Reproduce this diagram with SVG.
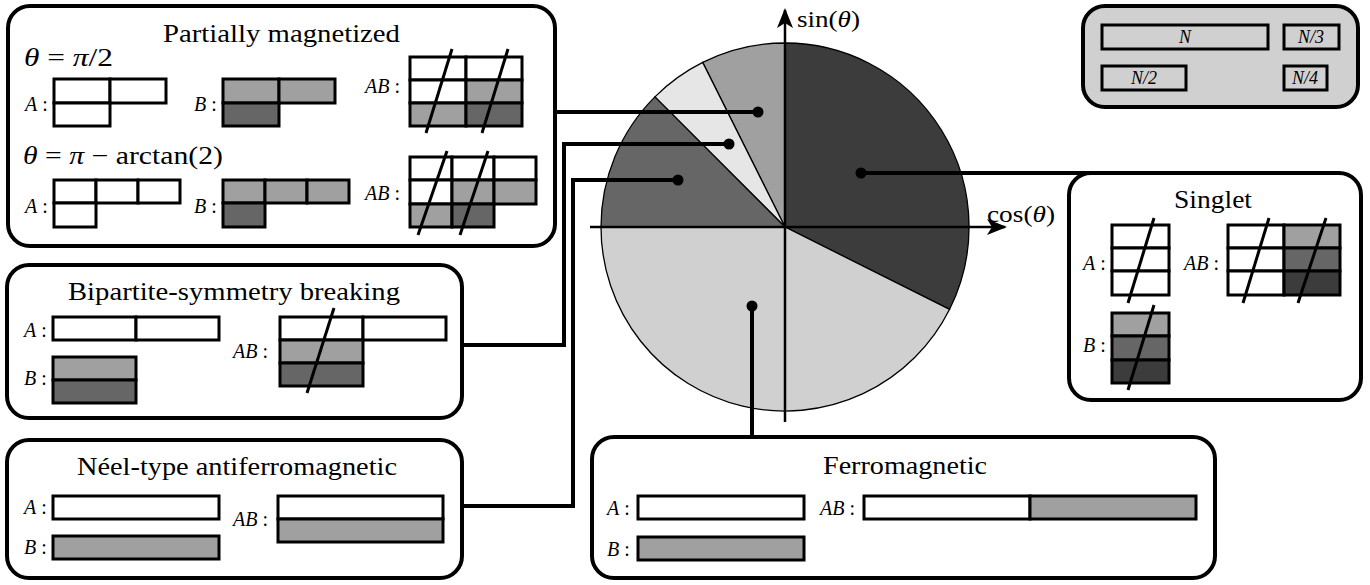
<svg xmlns="http://www.w3.org/2000/svg" width="1370" height="585" viewBox="0 0 1370 585">
<style>
.box{fill:#fff;stroke:#000;stroke-width:4}
.c{stroke:#000;stroke-width:3}
.w{fill:#fff}.g1{fill:#a0a0a0}.g2{fill:#666}.g3{fill:#3c3c3c}
.sl{stroke:#000;stroke-width:3;fill:none}
.t{font-family:"Liberation Serif","DejaVu Serif","Times New Roman",serif;font-size:25px;fill:#000}
.ax-l{font-family:"Liberation Serif","DejaVu Serif","Times New Roman",serif;font-size:23px;fill:#000}
.lb{font-family:"Liberation Serif","DejaVu Serif","Times New Roman",serif;font-size:20px;fill:#000}
.lg{font-family:"Liberation Serif","DejaVu Serif","Times New Roman",serif;font-size:18px;font-style:italic;fill:#000}
.i{font-style:italic}
.con{stroke:#000;stroke-width:4;fill:none}
.sec{stroke:#000;stroke-width:1.3}
.ax{stroke:#000;stroke-width:2.5;fill:none}
</style>
<defs>
<marker id="arr" viewBox="0 0 20 16" refX="18" refY="8" markerWidth="20" markerHeight="16" markerUnits="userSpaceOnUse" orient="auto">
<path d="M0,0 L20,8 L0,16 L5,8 Z" fill="#000"/>
</marker>
</defs>

<!-- Pie chart -->
<g id="pie">
<path class="sec g3" d="M785,227 L949.6,309.3 A184,184 0 0 0 785,43 Z"/>
<path class="sec g1" d="M785,227 L785,43 A184,184 0 0 0 702.7,62.4 Z"/>
<path class="sec" fill="#e6e6e6" d="M785,227 L702.7,62.4 A184,184 0 0 0 654.9,96.9 Z"/>
<path class="sec g2" d="M785,227 L654.9,96.9 A184,184 0 0 0 601,227 Z"/>
<path class="sec" fill="#d0d0d0" d="M785,227 L601,227 A184,184 0 0 0 949.6,309.3 Z"/>
<line class="ax" x1="785" y1="422" x2="785" y2="10" marker-end="url(#arr)"/>
<line class="ax" x1="590" y1="227" x2="1005" y2="227" marker-end="url(#arr)"/>
<text class="ax-l" x="797" y="27" textLength="63" lengthAdjust="spacingAndGlyphs">sin(<tspan class="i">θ</tspan>)</text>
<text class="ax-l" x="987" y="222" textLength="68" lengthAdjust="spacingAndGlyphs">cos(<tspan class="i">θ</tspan>)</text>
</g>

<!-- Connectors -->
<g id="connectors">
<path class="con" d="M555,112 H758"/>
<path class="con" d="M729,144 H564 V345 H463"/>
<path class="con" d="M678,180 H573 V506 H463"/>
<path class="con" d="M861,173 H1152"/>
<path class="con" d="M752,306 V437"/>
<circle cx="758" cy="112" r="5.5"/>
<circle cx="729" cy="144" r="5.5"/>
<circle cx="678" cy="180" r="5.5"/>
<circle cx="861" cy="173" r="5.5"/>
<circle cx="752" cy="306" r="5.5"/>
</g>

<!-- Partially magnetized -->
<g id="partially">
<rect class="box" x="8" y="6" width="547" height="240" rx="22"/>
<text class="t" x="163" y="42" textLength="237" lengthAdjust="spacingAndGlyphs">Partially magnetized</text>
<text class="t" x="24" y="66" textLength="89" lengthAdjust="spacingAndGlyphs"><tspan class="i">θ</tspan> = <tspan class="i">π</tspan>/2</text>
<text class="lb" x="25" y="111"><tspan class="i">A</tspan> :</text>
<rect class="c w" x="54" y="79" width="56" height="24"/>
<rect class="c w" x="110" y="79" width="56" height="24"/>
<rect class="c w" x="54" y="103" width="56" height="23"/>
<text class="lb" x="194" y="111"><tspan class="i">B</tspan> :</text>
<rect class="c g1" x="223" y="79" width="56" height="24"/>
<rect class="c g1" x="279" y="79" width="56" height="24"/>
<rect class="c g2" x="223" y="103" width="56" height="23"/>
<text class="lb" x="365" y="93"><tspan class="i">AB</tspan> :</text>
<rect class="c w" x="410" y="57" width="56" height="23"/>
<rect class="c w" x="466" y="57" width="56" height="23"/>
<rect class="c w" x="410" y="80" width="56" height="23"/>
<rect class="c g1" x="466" y="80" width="56" height="23"/>
<rect class="c g1" x="410" y="103" width="56" height="23"/>
<rect class="c g2" x="466" y="103" width="56" height="23"/>
<line class="sl" x1="452" y1="49" x2="426" y2="133"/>
<line class="sl" x1="508" y1="49" x2="482" y2="133"/>

<text class="t" x="23" y="164" textLength="200" lengthAdjust="spacingAndGlyphs"><tspan class="i">θ</tspan> = <tspan class="i">π</tspan> − arctan(2)</text>
<text class="lb" x="25" y="213"><tspan class="i">A</tspan> :</text>
<rect class="c w" x="54" y="180" width="42" height="23"/>
<rect class="c w" x="96" y="180" width="42" height="23"/>
<rect class="c w" x="138" y="180" width="42" height="23"/>
<rect class="c w" x="54" y="203" width="42" height="24"/>
<text class="lb" x="194" y="213"><tspan class="i">B</tspan> :</text>
<rect class="c g1" x="223" y="180" width="42" height="23"/>
<rect class="c g1" x="265" y="180" width="42" height="23"/>
<rect class="c g1" x="307" y="180" width="42" height="23"/>
<rect class="c g2" x="223" y="203" width="42" height="24"/>
<text class="lb" x="365" y="200"><tspan class="i">AB</tspan> :</text>
<rect class="c w" x="410" y="157" width="42" height="23"/>
<rect class="c w" x="452" y="157" width="42" height="23"/>
<rect class="c w" x="494" y="157" width="42" height="23"/>
<rect class="c w" x="410" y="180" width="42" height="24"/>
<rect class="c g1" x="452" y="180" width="42" height="24"/>
<rect class="c g1" x="494" y="180" width="42" height="24"/>
<rect class="c g1" x="410" y="204" width="42" height="23"/>
<rect class="c g2" x="452" y="204" width="42" height="23"/>
<line class="sl" x1="447" y1="151" x2="418" y2="235"/>
<line class="sl" x1="488" y1="151" x2="460" y2="235"/>
</g>

<!-- Bipartite-symmetry breaking -->
<g id="bipartite">
<rect class="box" x="7" y="265" width="455" height="153" rx="22"/>
<text class="t" x="68" y="300" textLength="332" lengthAdjust="spacingAndGlyphs">Bipartite-symmetry breaking</text>
<text class="lb" x="24" y="337"><tspan class="i">A</tspan> :</text>
<rect class="c w" x="53" y="317" width="83" height="23"/>
<rect class="c w" x="136" y="317" width="83" height="23"/>
<text class="lb" x="24" y="385"><tspan class="i">B</tspan> :</text>
<rect class="c g1" x="53" y="357" width="83" height="23"/>
<rect class="c g2" x="53" y="380" width="83" height="23"/>
<text class="lb" x="233" y="358"><tspan class="i">AB</tspan> :</text>
<rect class="c w" x="280" y="317" width="83" height="23"/>
<rect class="c w" x="363" y="317" width="83" height="23"/>
<rect class="c g1" x="280" y="340" width="83" height="23"/>
<rect class="c g2" x="280" y="363" width="83" height="23"/>
<line class="sl" x1="334" y1="308" x2="307" y2="393"/>
</g>

<!-- Neel-type antiferromagnetic -->
<g id="neel">
<rect class="box" x="7" y="440" width="455" height="138" rx="22"/>
<text class="t" x="77" y="475" textLength="320" lengthAdjust="spacingAndGlyphs">Néel-type antiferromagnetic</text>
<text class="lb" x="24" y="514"><tspan class="i">A</tspan> :</text>
<rect class="c w" x="53" y="496" width="166" height="23"/>
<text class="lb" x="24" y="554"><tspan class="i">B</tspan> :</text>
<rect class="c g1" x="53" y="536" width="166" height="23"/>
<text class="lb" x="233" y="526"><tspan class="i">AB</tspan> :</text>
<rect class="c w" x="278" y="496" width="165" height="23"/>
<rect class="c g1" x="278" y="519" width="165" height="23"/>
</g>

<!-- Ferromagnetic -->
<g id="ferro">
<rect class="box" x="592" y="437" width="623" height="141" rx="22"/>
<text class="t" x="823" y="474" textLength="164" lengthAdjust="spacingAndGlyphs">Ferromagnetic</text>
<text class="lb" x="607" y="515"><tspan class="i">A</tspan> :</text>
<rect class="c w" x="638" y="496" width="166" height="23"/>
<text class="lb" x="607" y="556"><tspan class="i">B</tspan> :</text>
<rect class="c g1" x="638" y="537" width="166" height="23"/>
<text class="lb" x="820" y="515"><tspan class="i">AB</tspan> :</text>
<rect class="c w" x="864" y="496" width="166" height="23"/>
<rect class="c g1" x="1030" y="496" width="166" height="23"/>
</g>

<!-- Singlet -->
<g id="singlet">
<rect class="box" x="1069" y="173" width="292" height="227" rx="22"/>
<text class="t" x="1174" y="208" textLength="78" lengthAdjust="spacingAndGlyphs">Singlet</text>
<text class="lb" x="1083" y="270"><tspan class="i">A</tspan> :</text>
<rect class="c w" x="1112" y="225" width="57" height="23"/>
<rect class="c w" x="1112" y="248" width="57" height="23"/>
<rect class="c w" x="1112" y="271" width="57" height="24"/>
<line class="sl" x1="1154" y1="218" x2="1128" y2="303"/>
<text class="lb" x="1184" y="270"><tspan class="i">AB</tspan> :</text>
<rect class="c w" x="1228" y="225" width="56" height="23"/>
<rect class="c w" x="1228" y="248" width="56" height="23"/>
<rect class="c w" x="1228" y="271" width="56" height="24"/>
<rect class="c g1" x="1284" y="225" width="56" height="23"/>
<rect class="c g2" x="1284" y="248" width="56" height="23"/>
<rect class="c g3" x="1284" y="271" width="56" height="24"/>
<line class="sl" x1="1269" y1="218" x2="1243" y2="303"/>
<line class="sl" x1="1326" y1="218" x2="1298" y2="303"/>
<text class="lb" x="1083" y="352"><tspan class="i">B</tspan> :</text>
<rect class="c g1" x="1112" y="313" width="57" height="23"/>
<rect class="c g2" x="1112" y="336" width="57" height="24"/>
<rect class="c g3" x="1112" y="360" width="57" height="23"/>
<line class="sl" x1="1154" y1="305" x2="1128" y2="390"/>
</g>

<!-- Legend -->
<g id="legend">
<rect class="box" x="1083" y="6" width="275" height="101" rx="22" style="fill:#d0d0d0"/>
<rect class="c" fill="#d0d0d0" x="1102" y="25" width="166" height="24"/>
<rect class="c" fill="#d0d0d0" x="1284" y="25" width="55" height="24"/>
<rect class="c" fill="#d0d0d0" x="1102" y="66" width="84" height="24"/>
<rect class="c" fill="#d0d0d0" x="1284" y="66" width="43" height="24"/>
<text class="lg" x="1185" y="43" text-anchor="middle">N</text>
<text class="lg" x="1311" y="43" text-anchor="middle">N/3</text>
<text class="lg" x="1144" y="84" text-anchor="middle">N/2</text>
<text class="lg" x="1305" y="84" text-anchor="middle">N/4</text>
</g>
</svg>
